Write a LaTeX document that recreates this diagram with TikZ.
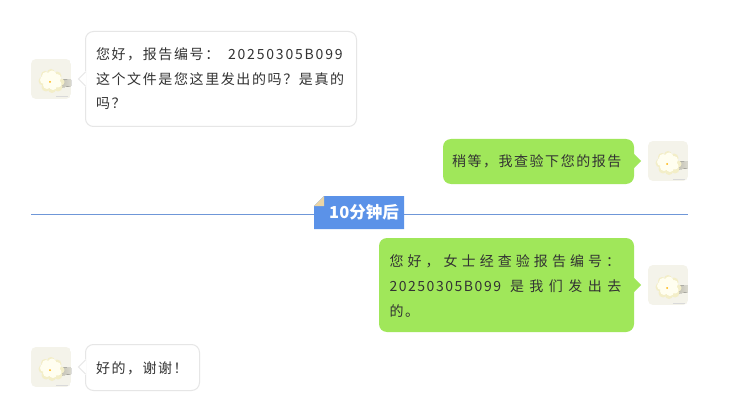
\documentclass[tikz,border=0pt]{standalone}
\usepackage{fontspec}
\setmainfont{Noto Sans CJK SC}
\newcommand{\ls}[2]{{\fontspec[LetterSpace=#1]{Noto Sans CJK SC}\fontsize{14pt}{14pt}\selectfont #2}}
\definecolor{bubblegreen}{HTML}{A0E75A}
\definecolor{bubbleedge}{HTML}{E6E6E6}
\definecolor{txt}{HTML}{333333}
\definecolor{rule}{HTML}{6F97D8}
\definecolor{tagblue}{HTML}{5B92E8}
\definecolor{fold}{HTML}{EBD5A5}
\definecolor{avbg}{HTML}{F4F3EA}
\definecolor{petal}{HTML}{FFFEF0}
\definecolor{petalb}{HTML}{F3EEC8}
\definecolor{shade}{HTML}{B5B3A6}
\tikzset{
  x=1pt,y=-1pt,
  line/.style={anchor=base west,inner sep=0pt,outer sep=0pt,text=txt},
  bubleft/.style={draw=bubbleedge,line width=1pt,fill=white,rounded corners=8pt},
  bubright/.style={fill=bubblegreen,rounded corners=8pt},
  avatar/.pic={
    \begin{scope}
      \clip[rounded corners=5pt] (0,0) rectangle (40,40);
      \fill[avbg] (0,0) rectangle (40,40);
      \fill[left color=shade,right color=avbg!60!shade,draw=none] (24,20) -- (40,21) -- (40,27) -- (34,28) -- (24,29) -- cycle;
      \foreach \cx/\cy/\r in {12/22/4.5,15/28/4.5,21/30/4,27/28/4.5,30/23/3.5,14/16/4,20/14/4,26/17/4.5}{
        \fill[petalb] (\cx,\cy) circle (\r);
      }
      \foreach \cx/\cy/\r in {13/21/4,16/26/4,22/27/4,27/25/3.5,15/17/4,21/16/4.5,26/19/4,20/22/6}{
        \fill[petal] (\cx,\cy) circle (\r);
      }
      \fill[orange!60!yellow] (19,23) circle (1);
      \fill[gray!30] (25,37.5) rectangle (37,38.5);
    \end{scope}
  }
}
\begin{document}
\begin{tikzpicture}
\useasboundingbox (0,0) rectangle (731,401);
\fill[white] (0,0) rectangle (731,401);

% divider
\coordinate (ruleL) at (31,214.5);
\coordinate (ruleR) at (688,214.5);
\draw[rule,line width=1pt] (ruleL) -- (ruleR);
\fill[tagblue] (314,206) -- (324,196) -- (404,196) -- (404,229) -- (314,229) -- cycle;
\fill[fold] (314,206) -- (324,196) -- (324,206) -- cycle;
\node[anchor=base west,inner sep=0pt,text=white,font=\bfseries\fontsize{16.5pt}{16.5pt}\selectfont] (tag) at (329,218) {10分钟后};

% message 1
\pic at (31,59) {avatar};
\draw[bubleft] (85.5,31.5) rectangle (356.5,126.5);
\fill[white] (78,79) -- (86,71) -- (86,87) -- cycle;
\draw[bubbleedge,line width=1pt] (85.5,72) -- (78.5,79) -- (85.5,86);
\node[line] (m1a) at (96,60) {\ls{11.5}{您好，报告编号：}};
\node[line] (m1b) at (228,60) {\ls{13}{20250305B099}};
\node[line] (m1c) at (96,85) {\ls{11.5}{这个文件是您这里发出的吗？是真的}};
\node[line] (m1d) at (96,109) {\ls{11.5}{吗？}};

% message 2
\pic at (648,141) {avatar};
\fill[bubright] (443,139) rectangle (634,184);
\fill[bubblegreen] (633,153) -- (641,161) -- (633,169) -- cycle;
\node[line] (m2) at (452,167) {\ls{11}{稍等，我查验下您的报告}};

% message 3
\pic at (648,265) {avatar};
\fill[bubright] (379,238) rectangle (634,332);
\fill[bubblegreen] (633,277) -- (641,285) -- (633,293) -- cycle;
\node[line] (m3a) at (389.5,266) {\ls{29}{您好，女士经查验报告编号：}};
\node[line] (m3b) at (389.5,291) {\ls{11}{20250305B099}};
\node[line] (m3c) at (510,291) {\ls{39}{是我们发出去}};
\node[line] (m3d) at (389.5,316) {\ls{11.5}{的。}};

% message 4
\pic at (31,347) {avatar};
\draw[bubleft] (85.5,344.5) rectangle (199.5,390.5);
\fill[white] (78,367) -- (86,359) -- (86,375) -- cycle;
\draw[bubbleedge,line width=1pt] (85.5,360) -- (78.5,367) -- (85.5,374);
\node[line] (m4) at (96,373) {\ls{11}{好的，谢谢！}};
\end{tikzpicture}
\end{document}
